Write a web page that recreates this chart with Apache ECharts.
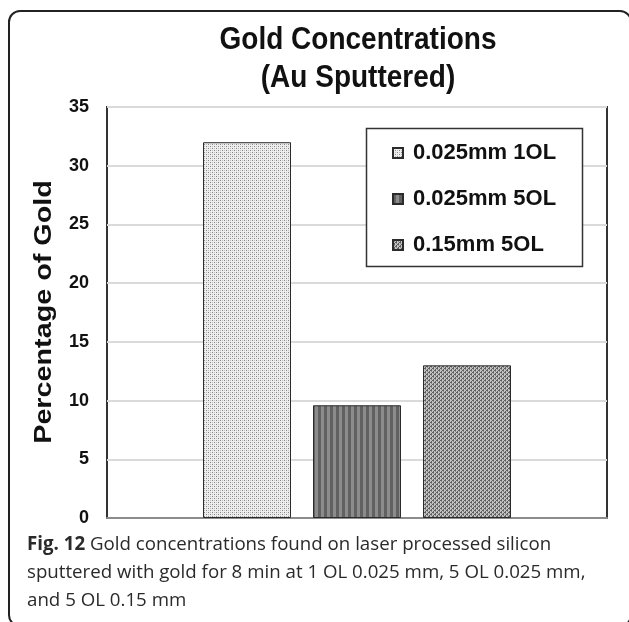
<!DOCTYPE html>
<html>
<head>
<meta charset="utf-8">
<script src="https://cdn.jsdelivr.net/npm/echarts@6/dist/echarts.min.js"></script>
<style>
  html, body { margin: 0; padding: 0; background: #fff; }
  #chart { width: 629px; height: 622px; }
</style>
</head>
<body>
<div id="chart"></div>
<script>
// Gold concentration per laser setting (single group of three bars)
const categories = ['Au Sputtered'];
const seriesNames = ['0.025mm 1OL', '0.025mm 5OL', '0.15mm 5OL'];
const goldPercent = [32.0, 9.6, 13.0];
const yMin = 0, yMax = 35, yStep = 5;

const titleLines = ['Gold Concentrations', '(Au Sputtered)'];
const yAxisTitle = 'Percentage of Gold';
const captionBold = 'Fig. 12';
const captionLines = [
  ' Gold concentrations found on laser processed silicon',
  'sputtered with gold for 8 min at 1 OL 0.025 mm, 5 OL 0.025 mm,',
  'and 5 OL 0.15 mm'
];

// Small repeating tiles used as bar fills
function tile(size, paint) {
  const c = document.createElement('canvas');
  c.width = c.height = size;
  paint(c.getContext('2d'));
  return c;
}
const dottedTile = tile(4, ctx => {
  ctx.fillStyle = '#eeeeee'; ctx.fillRect(0, 0, 4, 4);
  ctx.fillStyle = '#868686'; ctx.fillRect(0, 0, 1, 1); ctx.fillRect(2, 2, 1, 1);
  ctx.fillStyle = '#c0c0c0'; ctx.fillRect(2, 0, 1, 1); ctx.fillRect(0, 2, 1, 1);
});
const stripedTile = tile(6, ctx => {
  ctx.fillStyle = '#8c8c8c'; ctx.fillRect(0, 0, 6, 6);
  ctx.fillStyle = '#616161'; ctx.fillRect(0, 0, 3, 6);
});
const speckledTile = tile(4, ctx => {
  ctx.fillStyle = '#c4c4c4'; ctx.fillRect(0, 0, 4, 4);
  ctx.fillStyle = '#5e5e5e';
  ctx.fillRect(0, 0, 2, 1); ctx.fillRect(2, 2, 2, 1);
  ctx.fillRect(3, 1, 1, 1); ctx.fillRect(1, 3, 1, 1);
  ctx.fillStyle = '#8d8d8d';
  ctx.fillRect(1, 1, 1, 1); ctx.fillRect(3, 3, 1, 1);
});
const fills = [dottedTile, stripedTile, speckledTile];

const chart = echarts.init(document.getElementById('chart'), null, { renderer: 'canvas' });

const series = seriesNames.map((name, i) => ({
  name: name,
  type: 'bar',
  data: [goldPercent[i]],
  barWidth: 88,
  barGap: '25%',
  itemStyle: {
    color: { image: fills[i], repeat: 'repeat' },
    borderColor: '#2b2b2b',
    borderWidth: 1
  }
}));

// Bold heading lines, drawn slightly tall
const headingFont = {
  fontFamily: 'Liberation Sans',
  fontWeight: 'bold',
  fontSize: 28,
  fill: '#111',
  textAlign: 'center',
  textVerticalAlign: 'middle'
};
const headingCenters = [40, 78];

chart.setOption({
  animation: false,
  backgroundColor: '#fff',
  grid: {
    left: 107, right: 22, top: 107, bottom: 104,
    show: true,
    borderColor: '#333',
    borderWidth: 2,
    backgroundColor: '#fff'
  },
  legend: {
    data: seriesNames,
    orient: 'vertical',
    left: 392,
    top: 142,
    padding: 0,
    icon: 'rect',
    itemWidth: 10,
    itemHeight: 10,
    itemGap: 24,
    z: 6,
    textStyle: {
      fontFamily: 'Liberation Sans',
      fontWeight: 'bold',
      fontSize: 22,
      lineHeight: 22,
      color: '#111',
      padding: [0, 0, 0, 5]
    }
  },
  xAxis: {
    type: 'category',
    data: categories,
    axisLine: { lineStyle: { color: '#8c8c8c', width: 2 } },
    axisTick: { show: false },
    axisLabel: { show: false },
    splitLine: { show: false }
  },
  yAxis: {
    type: 'value',
    min: yMin,
    max: yMax,
    interval: yStep,
    axisLine: { show: false },
    axisTick: { show: false },
    axisLabel: {
      fontFamily: 'Liberation Sans',
      fontWeight: 'bold',
      fontSize: 18,
      color: '#111',
      margin: 18
    },
    splitLine: { lineStyle: { color: '#dadada', width: 2 } }
  },
  series: series,
  graphic: [
    {
      type: 'rect',
      z: 0,
      shape: { x: 9, y: 11, width: 622, height: 615, r: 11 },
      style: { fill: 'none', stroke: '#222', lineWidth: 2 }
    },
    {
      type: 'rect',
      z: 5,
      shape: { x: 366.5, y: 128.5, width: 216, height: 138 },
      style: { fill: '#fff', stroke: '#333', lineWidth: 1.5 }
    },
    ...titleLines.map((t, i) => ({
      type: 'text',
      z: 5,
      x: 358,
      y: headingCenters[i],
      scaleY: 1.15,
      style: Object.assign({ text: t }, headingFont)
    })),
    {
      type: 'text',
      z: 5,
      x: 45,
      y: 312,
      rotation: Math.PI / 2,
      scaleX: 1.25,
      style: {
        text: yAxisTitle,
        fontFamily: 'Liberation Sans',
        fontWeight: 'bold',
        fontSize: 23,
        fill: '#111',
        textAlign: 'center',
        textVerticalAlign: 'middle'
      }
    },
    {
      type: 'text',
      z: 5,
      x: 27,
      y: 531,
      style: {
        text: '{b|' + captionBold + '}' + captionLines.join('\n'),
        fontFamily: 'Open Sans',
        fontSize: 18.7,
        lineHeight: 28,
        fill: '#2a2a2a',
        rich: {
          b: { fontFamily: 'Open Sans', fontWeight: 'bold', fontSize: 18.7, lineHeight: 28, fill: '#2a2a2a' }
        }
      }
    }
  ]
});
</script>
</body>
</html>
